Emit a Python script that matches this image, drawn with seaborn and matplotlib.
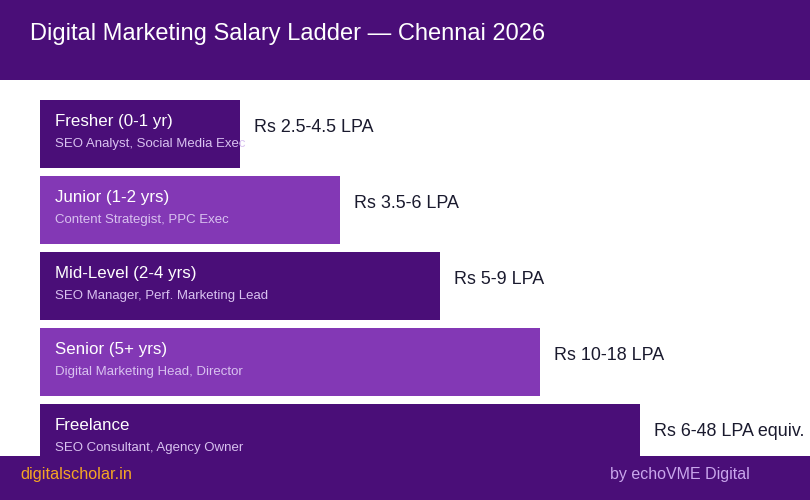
import matplotlib
matplotlib.use("Agg")
import matplotlib.pyplot as plt
from matplotlib.patches import Rectangle
import pandas as pd
import seaborn as sns

# ladder data
levels = ["Fresher (0-1 yr)", "Junior (1-2 yrs)", "Mid-Level (2-4 yrs)",
          "Senior (5+ yrs)", "Freelance"]
roles = ["SEO Analyst, Social Media Exec", "Content Strategist, PPC Exec",
         "SEO Manager, Perf. Marketing Lead", "Digital Marketing Head, Director",
         "SEO Consultant, Agency Owner"]
salary = ["Rs 2.5-4.5 LPA", "Rs 3.5-6 LPA", "Rs 5-9 LPA", "Rs 10-18 LPA",
          "Rs 6-48 LPA equiv."]
step = [2, 3, 4, 5, 6]

DARK = "#4a0e78"
LIGHT = "#8338b5"
bar_colors = [DARK, LIGHT, DARK, LIGHT, DARK]

df = pd.DataFrame({"level": levels, "step": step})

sns.set_theme(style="white")
plt.rcParams["font.family"] = ["Liberation Sans", "DejaVu Sans"]

fig = plt.figure(figsize=(8.1, 5), dpi=100)
fig.patch.set_facecolor("white")
ax = fig.add_axes([0, 0, 1, 1])

sns.barplot(data=df, y="level", x="step", hue="level", palette=bar_colors,
            orient="h", width=68 / 76, legend=False, saturation=1,
            linewidth=0, edgecolor="none", ax=ax)

ax.set_xlim(-0.4, 7.7)
ax.set_ylim((500 - 134) / 76, -134 / 76)
ax.axis("off")

for i in range(len(levels)):
    ax.text(0.15, i - 0.16, levels[i], color="white", fontsize=12.2,
            va="center", ha="left")
    ax.text(0.15, i + 0.13, roles[i], color="#d9c2f0", fontsize=9.5,
            va="center", ha="left")
    ax.text(step[i] + 0.14, i - 0.09, salary[i], color="#1a1a2e",
            fontsize=12.9, va="center", ha="left")

# header and footer bands
fig.add_artist(Rectangle((0, 1 - 80 / 500), 1, 80 / 500, transform=fig.transFigure,
                         facecolor=DARK, edgecolor="none", zorder=5))
fig.add_artist(Rectangle((0, 0), 1, 44 / 500, transform=fig.transFigure,
                         facecolor=DARK, edgecolor="none", zorder=5))

fig.text(30 / 810, 1 - 34 / 500, "Digital Marketing Salary Ladder \u2014 Chennai 2026",
         color="white", fontsize=17, va="center", ha="left", zorder=6)
fig.text(20 / 810, 25 / 500, "digitalscholar.in", color="#f5a623",
         fontsize=11.7, va="center", ha="left", zorder=6)
fig.text(750 / 810, 25 / 500, "by echoVME Digital", color="#c9a6ec",
         fontsize=11.5, va="center", ha="right", zorder=6)

fig.savefig("out.png", dpi=100)
